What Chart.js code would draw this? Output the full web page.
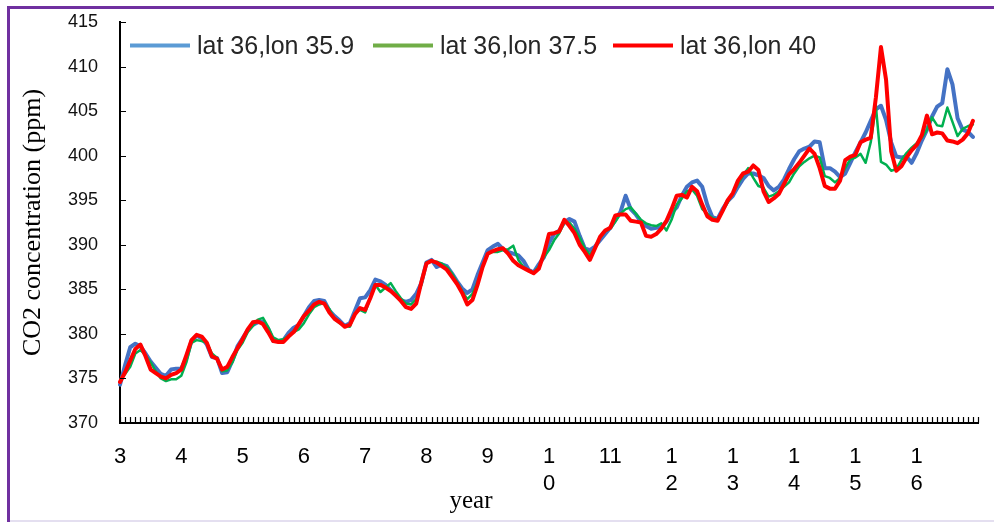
<!DOCTYPE html>
<html>
<head>
<meta charset="utf-8">
<script src="https://cdn.jsdelivr.net/npm/chart.js@4.4.0/dist/chart.umd.min.js"></script>
<style>
  html, body { margin: 0; padding: 0; background: #fff; }
  #wrap { position: relative; width: 994px; height: 522px; overflow: hidden; }
  #chart { position: absolute; left: 0; top: 0; }
  .frame-top { position: absolute; left: 7px; top: 6px; width: 987px; height: 3px; background: #7030a0; }
  .frame-left { position: absolute; left: 7px; top: 6px; width: 3px; height: 516px; background: #7030a0; }
  .frame-bottom { position: absolute; left: 10px; top: 520px; width: 984px; height: 2px; background: #e4dff0; }
  .item { position: absolute; top: 45px; transform: translateY(-50%); display: flex; align-items: center;
          white-space: nowrap; font-family: 'Liberation Sans', Arial, sans-serif; font-size: 25px; color: #262626; }
  .swatch { display: inline-block; width: 60px; height: 4px; margin-right: 7px; }
  #xtitle { position: absolute; left: 471px; top: 500px; transform: translate(-50%, -50%);
            font-family: 'Liberation Serif', 'Times New Roman', serif; font-size: 25px; color: #000; }
</style>
</head>
<body>
<div id="wrap">
  <canvas id="chart" width="994" height="522"></canvas>
  <div class="frame-top"></div>
  <div class="frame-left"></div>
  <div class="frame-bottom"></div>
  <div id="legend"></div>
  <div id="xtitle">year</div>
</div>
<script>
// year labels, one every 12 months (Excel wrapped most two-digit ones)
const yearLabels = ['3', '4', '5', '6', '7', '8', '9', ['1', '0'], '11', ['1', '2'], ['1', '3'], ['1', '4'], ['1', '5'], ['1', '6']];
const monthsPerYear = 12;
const categoryCount = 169;

const seriesNames = ['lat 36,lon 35.9', 'lat 36,lon 37.5', 'lat 36,lon 40'];
const lineColors = ['#4472C4', '#00B050', '#FF0000'];
const legendColors = ['#5B9BD5', '#70AD47', '#FF0000'];

const lon359 = [
  374.3, 376.5, 378.5, 378.9, 378.6, 377.8, 376.9, 376.2, 375.5, 375.3, 376.0, 376.1,
  376.1, 377.3, 379.2, 379.8, 379.5, 378.8, 377.4, 377.3, 375.6, 375.7, 377.0, 378.6,
  379.5, 380.4, 381.0, 381.3, 381.4, 380.6, 379.2, 379.2, 379.3, 380.1, 380.7, 381.0,
  382.0, 383.0, 383.7, 383.8, 383.7, 382.6, 382.0, 381.5, 380.9, 381.2, 382.6, 384.0,
  384.1, 384.9, 386.1, 385.9, 385.5, 384.9, 384.3, 383.8, 383.6, 383.8, 384.5, 385.7,
  388.0, 388.3, 387.5, 387.8, 387.6, 386.8, 385.9, 385.1, 384.6, 385.0, 386.6, 388.0,
  389.4, 389.8, 390.1, 389.5, 389.2, 389.0, 388.8, 388.2, 387.2, 386.9, 387.8, 388.6,
  390.2, 391.2, 391.6, 392.5, 392.9, 392.6, 391.0, 389.6, 389.4, 389.8, 390.5, 391.2,
  391.9, 392.8, 393.7, 395.5, 394.0, 393.4, 392.6, 392.1, 391.8, 391.9, 392.0, 392.6,
  393.6, 394.2, 395.5, 396.5, 397.0, 397.2, 396.5, 394.5, 393.1, 392.9, 394.0, 394.9,
  395.5, 396.5, 397.4, 398.0, 398.0, 397.8, 397.5, 396.6, 396.1, 396.5, 397.3, 398.5,
  399.6, 400.5, 400.8, 401.0, 401.6, 401.5, 398.6, 398.6, 398.2, 397.6, 398.0, 399.2,
  400.4, 401.5, 402.6, 403.9, 405.2, 405.6, 404.0, 401.5, 399.9, 399.8, 399.9, 399.2,
  400.3, 401.7, 402.9, 404.4, 405.5, 405.9, 409.7, 408.0, 404.2, 402.9, 402.7, 402.1
];

const lon375 = [
  374.8, 375.5, 376.3, 377.8, 378.2, 377.6, 376.8, 375.8, 375.0, 374.7, 374.9, 374.9,
  375.3, 376.8, 379.0, 379.3, 379.2, 379.0, 377.8, 377.3, 375.8, 375.9, 376.8, 378.2,
  379.0, 380.2, 380.9, 381.6, 381.8, 380.8, 379.6, 379.3, 379.4, 379.8, 380.2, 380.5,
  381.2, 382.2, 383.0, 383.3, 383.5, 382.8, 381.7, 381.2, 380.9, 380.8, 382.3, 382.7,
  382.4, 384.0, 385.5, 384.7, 385.2, 385.7, 384.8, 384.0, 383.4, 383.3, 383.9, 385.5,
  388.0, 388.1, 388.1, 387.9, 387.5, 386.8, 385.8, 384.8, 383.9, 384.5, 385.8, 387.5,
  389.0, 389.2, 389.2, 389.4, 389.5, 389.9, 388.3, 387.5, 387.1, 386.8, 387.6, 388.6,
  389.4, 390.5, 391.3, 392.5, 392.5, 391.8, 390.8, 389.6, 388.9, 389.6, 390.8, 391.5,
  391.8, 392.6, 393.5, 394.0, 394.2, 393.5, 392.8, 392.4, 392.2, 392.1, 392.4, 391.6,
  392.8, 394.5, 395.2, 396.0, 396.2, 395.5, 394.0, 393.5, 393.0, 392.8, 393.8, 394.8,
  395.8, 396.8, 397.8, 398.6, 397.5, 396.6, 396.4, 395.4, 395.6, 396.0, 396.5, 397.0,
  398.0, 398.8, 399.3, 399.7, 400.0, 399.8, 397.7, 397.5, 397.0, 397.5, 398.6, 399.6,
  399.8, 400.2, 399.2, 401.5, 405.6, 399.3, 399.0, 398.3, 398.5, 399.5, 400.3, 400.9,
  401.4, 402.0, 402.9, 404.3, 403.4, 403.3, 405.4, 403.8, 402.2, 403.0, 403.3, 403.5
];

const lon40 = [
  374.6, 375.7, 377.0, 378.3, 378.8, 377.5, 376.0, 375.6, 375.2, 375.0, 375.4, 375.6,
  376.0, 377.6, 379.3, 379.9, 379.7, 379.0, 377.5, 377.2, 376.0, 376.3, 377.4, 378.4,
  379.4, 380.5, 381.3, 381.4, 381.1, 380.2, 379.2, 379.1, 379.1, 379.7, 380.2, 381.1,
  382.0, 382.6, 383.3, 383.6, 383.4, 382.4, 381.7, 381.3, 380.8, 381.0, 382.2, 382.9,
  382.7, 384.0, 385.5, 385.5, 385.2, 384.8, 384.3, 383.7, 383.0, 382.8, 383.4, 385.8,
  387.9, 388.2, 388.0, 387.6, 387.2, 386.4, 385.6, 384.6, 383.3, 383.8, 385.5, 387.5,
  389.0, 389.3, 389.5, 389.6, 389.0, 388.2, 387.7, 387.4, 387.1, 386.8, 387.3, 389.0,
  391.2, 391.3, 391.5, 392.8, 392.1, 391.3, 390.0, 389.2, 388.3, 389.6, 390.9, 391.6,
  391.9, 393.3, 393.4, 393.4, 392.7, 392.6, 392.5, 391.0, 390.9, 391.2, 391.8, 392.7,
  394.0, 395.5, 395.6, 395.3, 396.5, 396.0, 394.5, 393.2, 392.8, 392.7, 393.8, 395.0,
  395.8, 397.2, 398.0, 398.2, 398.9, 398.4, 396.0, 394.8, 395.2, 395.7, 396.8, 397.9,
  398.5, 399.2, 400.0, 400.8, 400.2, 398.6, 396.6, 396.3, 396.3, 397.2, 399.5, 399.9,
  400.1, 401.5, 401.8, 402.0, 406.5, 412.2, 408.5, 400.5, 398.3, 398.8, 399.8, 400.6,
  401.2, 402.3, 404.5, 402.4, 402.6, 402.5, 401.7, 401.6, 401.4, 401.8, 402.5, 403.9
];

// category labels: a year label on the first month of each year, blank elsewhere
const labels = [];
for (let i = 0; i < categoryCount; i++) {
  const y = i / monthsPerYear;
  labels.push(i % monthsPerYear === 0 && y < yearLabels.length ? yearLabels[y] : '');
}

// html legend
const legendEl = document.getElementById('legend');
const legendLeft = [130, 373, 613];
seriesNames.forEach((name, i) => {
  const item = document.createElement('div');
  item.className = 'item';
  item.style.left = legendLeft[i] + 'px';
  item.innerHTML = '<span class="swatch" style="background:' + legendColors[i] + '"></span>' + name;
  legendEl.appendChild(item);
});

// Excel style tick marks pointing into the plot
const innerTicks = {
  id: 'innerTicks',
  afterDatasetsDraw(chart) {
    const { ctx, scales: { x, y } } = chart;
    ctx.save();
    ctx.strokeStyle = '#000';
    ctx.lineWidth = 1.2;
    ctx.beginPath();
    x.ticks.forEach((t, i) => {
      const px = Math.round(x.getPixelForTick(i)) + 0.5;
      ctx.moveTo(px, y.bottom);
      ctx.lineTo(px, y.bottom - 6);
    });
    y.ticks.forEach((t, i) => {
      const py = Math.round(y.getPixelForTick(i)) + 0.5;
      ctx.moveTo(x.left, py);
      ctx.lineTo(x.left + 6, py);
    });
    ctx.stroke();
    ctx.restore();
  }
};

const series = [lon359, lon375, lon40];
const widths = [4, 2.5, 4];

new Chart(document.getElementById('chart'), {
  type: 'line',
  data: {
    labels: labels,
    datasets: series.map((data, i) => ({
      label: seriesNames[i],
      data: data,
      borderColor: lineColors[i],
      backgroundColor: lineColors[i],
      borderWidth: widths[i],
      borderJoinStyle: 'round',
      borderCapStyle: 'round',
      pointRadius: 0,
      tension: 0,
      order: 3 - i
    }))
  },
  options: {
    responsive: false,
    animation: false,
    layout: { padding: { top: 22, right: 16, left: 0, bottom: 0 } },
    plugins: { legend: { display: false }, tooltip: { enabled: false } },
    scales: {
      x: {
        offset: false,
        grid: { display: true, drawOnChartArea: false, drawTicks: false },
        border: { color: '#000', width: 2 },
        ticks: {
          autoSkip: false, maxRotation: 0, minRotation: 0, padding: 20, color: '#000',
          font: { family: 'Liberation Sans', size: 22, lineHeight: 1.25 }
        },
        afterFit(s) {
          s.height = 99;
          s.paddingLeft = 0;
          s.paddingRight = 0;
        }
      },
      y: {
        min: 370,
        max: 415,
        grid: { display: true, drawOnChartArea: false, drawTicks: false },
        border: { color: '#000', width: 2 },
        ticks: { stepSize: 5, padding: 22, color: '#111', font: { family: 'Liberation Sans', size: 18 } },
        title: {
          display: true,
          text: 'CO2 concentration (ppm)',
          color: '#000',
          font: { family: 'Liberation Serif', size: 26 },
          padding: { top: 18, bottom: 0 }
        },
        afterFit(s) {
          s.width = 120;
          // tick padding would otherwise push the plot top down
          s.paddingTop = 0;
          s.paddingBottom = 0;
        }
      }
    }
  },
  plugins: [innerTicks]
});
</script>
</body>
</html>
